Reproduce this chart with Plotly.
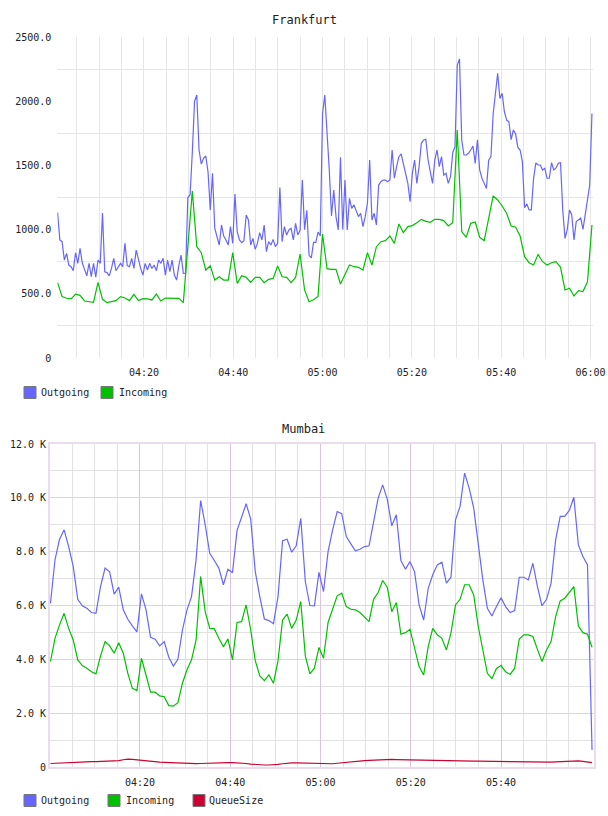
import plotly.graph_objects as go
import pandas as pd

# ---------------- data ----------------
# Frankfurt: Outgoing (30 s samples), Incoming (1 min samples)
FRA_OUT = [
    1132, 920, 906, 763, 815, 724, 711, 680, 820, 737,
    854, 740, 690, 640, 737, 633, 737, 630, 763, 737,
    1130, 672, 665, 640, 698, 776, 680, 711, 737, 711,
    893, 720, 711, 776, 698, 841, 763, 698, 646, 737,
    685, 737, 698, 724, 680, 763, 737, 776, 646, 763,
    672, 763, 646, 607, 720, 802, 659, 660, 1250, 1270,
    1600, 2000, 2048, 1620, 1510, 1555, 1573, 1450, 1153, 1438,
    1010, 932, 880, 1036, 950, 919, 880, 1023, 893, 1277,
    984, 919, 898, 914, 1114, 1075, 880, 932, 846, 893,
    976, 919, 1036, 828, 906, 880, 924, 867, 893, 1327,
    906, 1023, 958, 997, 1010, 919, 1049, 958, 997, 1386,
    1000, 1150, 800, 780, 900, 900, 980, 950, 1900, 2048,
    1776, 1464, 1106, 1308, 1101, 997, 1563, 1000, 1386, 997,
    1244, 1166, 1192, 1153, 1101, 1127, 1023, 1101, 1205, 1542,
    1075, 1127, 1036, 1347, 1373, 1386, 1386, 1373, 1386, 1620,
    1400, 1490, 1568, 1589, 1516, 1438, 1360, 1218, 1438, 1542,
    1360, 1490, 1672, 1698, 1703, 1542, 1464, 1360, 1542, 1620,
    1490, 1568, 1425, 1438, 1360, 1412, 1599, 1646, 2280, 2330,
    1698, 1581, 1581, 1594, 1620, 1650, 1516, 1700, 1464, 1400,
    1360, 1321, 1540, 1568, 1900, 2074, 2217, 2022, 2061, 1918,
    1853, 1840, 1700, 1776, 1744, 1640, 1620, 1529, 1170, 1200,
    1153, 1153, 1399, 1520, 1503, 1503, 1464, 1477, 1400, 1400,
    1521, 1464, 1480, 1516, 1521, 1150, 932, 1000, 1153, 1114,
    920, 1062, 1075, 1090, 1002, 1114, 1200, 1347, 1905,
]
FRA_IN = [
    587, 478, 465, 460, 498, 488, 444, 439, 434, 589,
    457, 431, 439, 447, 478, 467, 447, 496, 447, 462,
    460, 452, 498, 444, 467, 465, 467, 465, 431, 870,
    1300, 867, 820, 685, 717, 607, 633, 607, 607, 820,
    581, 641, 628, 589, 628, 628, 587, 613, 620, 717,
    633, 628, 587, 628, 810, 530, 438, 454, 480, 966,
    696, 690, 690, 576, 646, 724, 711, 706, 685, 820,
    724, 867, 906, 914, 950, 893, 1044, 976, 1023, 1031,
    1054, 1080, 1064, 1057, 1080, 1080, 1070, 1028, 1054, 1776,
    984, 940, 1049, 1059, 940, 914, 1088, 1262, 1231, 1184,
    1127, 1028, 1018, 950, 789, 742, 724, 807, 750, 724,
    742, 750, 706, 530, 543, 483, 524, 517, 594, 1036,
]
FRA_START, FRA_END = "2024-01-01 04:00:40", "2024-01-01 06:00:20"

# Mumbai: 1 min samples
MUM_OUT = [
    6080, 7700, 8460, 8810, 8190, 7450, 6230, 5990, 5900, 5740,
    5710, 6700, 7390, 7250, 6420, 6680, 5840, 5490, 5240, 5020,
    6430, 5840, 4820, 4750, 4500, 4660, 4080, 3750, 4000, 5090,
    5840, 6330, 7700, 9900, 9000, 7940, 7670, 7390, 6770, 7350,
    7220, 8790, 9280, 9780, 9210, 7260, 6330, 5500, 5440, 5320,
    6330, 8410, 8460, 7980, 8220, 9240, 6890, 6000, 5990, 7230,
    6520, 8000, 8810, 9490, 9410, 8560, 8290, 8030, 8090, 8190,
    8220, 9180, 9990, 10480, 9950, 8960, 9370, 7670, 7350, 7630,
    7260, 6020, 5460, 6640, 7140, 7510, 7610, 6830, 7050, 9180,
    9680, 10920, 10360, 9620, 8190, 6950, 5900, 5610, 5960, 6290,
    5960, 5740, 5810, 7050, 7050, 6950, 7570, 6700, 5990, 6230,
    6830, 8440, 9310, 9310, 9530, 10020, 8250, 7820, 7510, 630,
]
MUM_IN = [
    3920, 4780, 5280, 5710, 5150, 4720, 3980, 3770, 3670, 3540,
    3460, 4130, 4660, 4500, 4230, 4620, 4230, 3480, 2920, 2840,
    4040, 3360, 2780, 2780, 2640, 2610, 2280, 2260, 2390, 3110,
    3610, 3980, 4720, 7080, 5770, 5150, 5140, 4780, 4470, 4760,
    3980, 5370, 5400, 6020, 5090, 3950, 3380, 3210, 3420, 3110,
    3950, 5460, 5680, 5150, 5460, 6150, 4130, 3460, 3670, 4440,
    4040, 5370, 5840, 6360, 6460, 5960, 5860, 5840, 5740, 5560,
    5400, 6230, 6480, 6930, 6680, 5770, 6110, 4930, 4990, 5120,
    4470, 3730, 3420, 4470, 5150, 4910, 4780, 4350, 4970, 6020,
    6230, 6770, 6770, 6390, 5220, 4410, 3480, 3280, 3660, 3770,
    3540, 3440, 3670, 4750, 4910, 4910, 4850, 4370, 3920, 4350,
    4660, 5590, 6170, 6270, 6480, 6700, 5240, 4990, 4930, 4450,
]
MUM_QUEUE = [
    130, 140, 150, 160, 170, 180, 185, 190, 195, 200,
    200, 205, 210, 215, 225, 240, 270, 290, 280, 260,
    240, 220, 200, 190, 180, 170, 160, 150, 140, 130,
    125, 120, 125, 130, 140, 150, 155, 160, 165, 165,
    160, 155, 150, 130, 110, 90, 80, 75, 75, 80,
    100, 120, 140, 150, 150, 145, 140, 135, 130, 125,
    110, 110, 120, 140, 160, 180, 200, 215, 225, 235,
    245, 255, 265, 270, 275, 280, 275, 270, 265, 260,
    255, 250, 248, 245, 243, 240, 238, 235, 232, 230,
    228, 225, 222, 220, 218, 215, 212, 210, 208, 205,
    205, 205, 200, 195, 190, 185, 180, 175, 170, 175,
    180, 190, 200, 210, 225, 240, 230, 210, 180, 160,
]
MUM_START, MUM_END = "2024-01-01 04:00:10", "2024-01-01 06:00:10"

SERIES = ["Outgoing", "Incoming", "QueueSize"]
COLORS = ["#6666ff", "#00c000", "#cc0033"]

FRA_YTICKS = [0, 500, 1000, 1500, 2000, 2500]
FRA_YTEXT = ["0", "500.0", "1000.0", "1500.0", "2000.0", "2500.0"]
FRA_YGRID = [250, 750, 1250, 1750, 2250]
FRA_XTEXT = ["04:20", "04:40", "05:00", "05:20", "05:40", "06:00"]

MUM_YTICKS = [0, 2000, 4000, 6000, 8000, 10000, 12000]
MUM_YTEXT = ["0", "2.0 K", "4.0 K", "6.0 K", "8.0 K", "10.0 K", "12.0 K"]
MUM_YGRID = [1000, 3000, 5000, 7000, 9000, 11000]
MUM_XTEXT = ["04:20", "04:40", "05:00", "05:20", "05:40"]

DAY = "2024-01-01 "
FONT = "DejaVu Sans Mono"
W, H = 608, 816


def t(hhmm):
    return pd.Timestamp(DAY + hhmm)


def px_x(p):
    return p / W


def px_y(p):
    return 1 - p / H


fra_out_t = pd.date_range(FRA_START, FRA_END, periods=len(FRA_OUT))
fra_in_t = pd.date_range(FRA_START, FRA_END, periods=len(FRA_IN))
mum_t = pd.date_range(MUM_START, MUM_END, periods=len(MUM_OUT))

fig = go.Figure()
fig.add_trace(go.Scatter(x=fra_out_t, y=FRA_OUT, mode="lines", name=SERIES[0],
                         line=dict(color=COLORS[0], width=1.2), xaxis="x", yaxis="y",
                         showlegend=False))
fig.add_trace(go.Scatter(x=fra_in_t, y=FRA_IN, mode="lines", name=SERIES[1],
                         line=dict(color=COLORS[1], width=1.2), xaxis="x", yaxis="y",
                         showlegend=False))
for vals, name, col in zip([MUM_OUT, MUM_IN, MUM_QUEUE], SERIES, COLORS):
    fig.add_trace(go.Scatter(x=mum_t, y=vals, mode="lines", name=name,
                             line=dict(color=col, width=1.2), xaxis="x2", yaxis="y2",
                             showlegend=False))

fra_minor = [t("04:00") + pd.Timedelta(minutes=5 * k) for k in range(1, 25)]
mum_minor = [t("04:00") + pd.Timedelta(minutes=5 * k) for k in range(1, 24)]

tickfont = dict(family=FONT, size=10, color="#222222")

fig.update_layout(
    width=W, height=H, autosize=False,
    margin=dict(l=0, r=0, t=0, b=0, autoexpand=False),
    paper_bgcolor="white", plot_bgcolor="white",
    showlegend=False,
    xaxis=dict(
        domain=[px_x(57.3), px_x(593)], anchor="y", automargin=False,
        range=[t("04:00:36"), t("06:00:34")],
        tickmode="array", tickvals=[t(s) for s in FRA_XTEXT], ticktext=FRA_XTEXT,
        showgrid=True, gridcolor="#e6e6e6", gridwidth=1,
        minor=dict(tickmode="array", tickvals=fra_minor, showgrid=True,
                   gridcolor="#e6e6e6", gridwidth=1, ticks=""),
        showline=False, zeroline=False, ticks="", tickfont=tickfont,
        ticklabelstandoff=7,
    ),
    yaxis=dict(
        domain=[px_y(358), px_y(37)], anchor="x", automargin=False,
        range=[0, 2500],
        tickmode="array", tickvals=FRA_YTICKS, ticktext=FRA_YTEXT,
        showgrid=False,
        minor=dict(tickmode="array", tickvals=FRA_YGRID, showgrid=True,
                   gridcolor="#e6e6e6", gridwidth=1, ticks=""),
        showline=False, zeroline=False, ticks="", tickfont=tickfont,
        ticklabelstandoff=5,
    ),
    xaxis2=dict(
        domain=[px_x(50), px_x(594)], anchor="y2", automargin=False,
        range=[t("04:00:04"), t("06:00:36")],
        tickmode="array", tickvals=[t(s) for s in MUM_XTEXT], ticktext=MUM_XTEXT,
        showgrid=True, gridcolor="#dcc4dc", gridwidth=1,
        minor=dict(tickmode="array", tickvals=mum_minor, showgrid=True,
                   gridcolor="#e2e2e2", gridwidth=1, ticks=""),
        showline=True, linecolor="#eadcea", linewidth=2, mirror=True,
        zeroline=False, ticks="", tickfont=tickfont,
        ticklabelstandoff=5,
    ),
    yaxis2=dict(
        domain=[px_y(767), px_y(444)], anchor="x2", automargin=False,
        range=[0, 12000],
        tickmode="array", tickvals=MUM_YTICKS, ticktext=MUM_YTEXT,
        showgrid=True, gridcolor="#e6cfe6", gridwidth=1,
        minor=dict(tickmode="array", tickvals=MUM_YGRID, showgrid=True,
                   gridcolor="#e2e2e2", gridwidth=1, ticks=""),
        showline=True, linecolor="#eadcea", linewidth=2, mirror=True,
        zeroline=False, ticks="", tickfont=tickfont,
        ticklabelstandoff=0,
    ),
)

# titles
fig.add_annotation(text="Frankfurt", x=px_x(304), y=px_y(20), xref="paper", yref="paper",
                   showarrow=False, xanchor="center", yanchor="middle",
                   font=dict(family=FONT, size=12, color="#222222"))
fig.add_annotation(text="Mumbai", x=px_x(303), y=px_y(429), xref="paper", yref="paper",
                   showarrow=False, xanchor="center", yanchor="middle",
                   font=dict(family=FONT, size=12, color="#222222"))

# legends (swatch + label)
legend_items = [
    (392.5, [(24, 39, SERIES[0], COLORS[0]), (101, 117, SERIES[1], COLORS[1])]),
    (800.5, [(24, 39, SERIES[0], COLORS[0]), (108, 124, SERIES[1], COLORS[1]),
             (193, 207, SERIES[2], COLORS[2])]),
]
for cy, items in legend_items:
    for sx, tx, name, col in items:
        fig.add_shape(type="rect", xref="paper", yref="paper",
                      x0=px_x(sx), x1=px_x(sx + 12), y0=px_y(cy + 6), y1=px_y(cy - 6),
                      fillcolor=col, line=dict(color="#777777", width=1))
        fig.add_annotation(text=name, x=px_x(tx), y=px_y(cy), xref="paper", yref="paper",
                           showarrow=False, xanchor="left", yanchor="middle",
                           font=dict(family=FONT, size=10, color="#222222"))

fig.write_html(
    "out.html",
    config=dict(displayModeBar=False, responsive=False),
    post_script="document.body.style.margin='0';document.body.style.overflow='hidden';",
)
